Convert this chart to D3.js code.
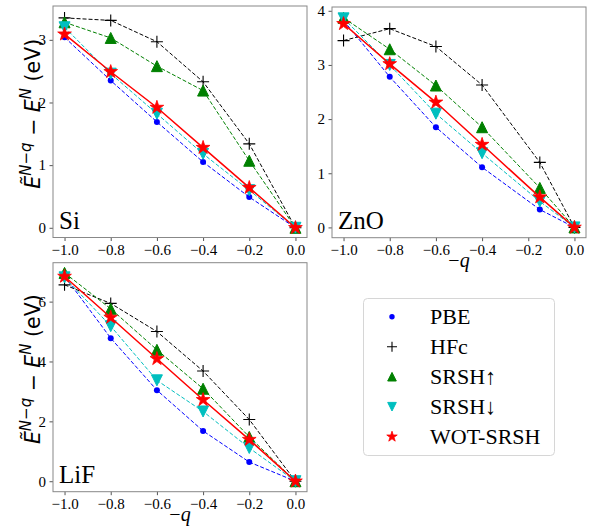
<!DOCTYPE html>
<html>
<head>
<meta charset="utf-8">
<script src="https://cdn.jsdelivr.net/npm/d3@7"></script>
<style>
  body { margin: 0; background: #fff; }
  svg { display: block; }
</style>
</head>
<body>
<div id="chart"></div>
<script>
// ---- data ----
const methods = ["PBE", "HFc", "SRSH\u2191", "SRSH\u2193", "WOT-SRSH"];

const qSi = [-1.0, -0.8, -0.6, -0.4, -0.2, 0.0];
const siPBE  = [3.04, 2.35, 1.69, 1.05, 0.49, 0];
const siHFc  = [3.35, 3.31, 2.97, 2.33, 1.34, 0];
const siUp   = [3.28, 3.03, 2.58, 2.19, 1.07, 0];
const siDown = [3.20, 2.46, 1.82, 1.18, 0.60, 0];
const siWOT  = [3.09, 2.49, 1.92, 1.28, 0.64, 0];

const qZnO = [-1.0, -0.8, -0.6, -0.4, -0.15, 0.0];
const znoPBE  = [3.82, 2.78, 1.85, 1.11, 0.33, 0];
const znoHFc  = [3.45, 3.67, 3.34, 2.63, 1.20, 0];
const znoUp   = [3.87, 3.29, 2.62, 1.85, 0.73, 0];
const znoDown = [3.86, 3.00, 2.10, 1.37, 0.48, 0];
const znoWOT  = [3.76, 3.02, 2.31, 1.53, 0.56, 0];

const qLiF = [-1.0, -0.8, -0.6, -0.4, -0.2, 0.0];
const lifPBE  = [6.85, 4.78, 3.04, 1.68, 0.64, 0];
const lifHFc  = [6.56, 5.94, 5.00, 3.68, 2.06, 0];
const lifUp   = [6.96, 5.76, 4.39, 3.09, 1.48, 0];
const lifDown = [6.81, 5.18, 3.37, 2.33, 1.11, 0];
const lifWOT  = [6.84, 5.47, 4.09, 2.72, 1.39, 0];

const xTicks = [-1.0, -0.8, -0.6, -0.4, -0.2, 0.0];
const siTicks = [0, 1, 2, 3];
const znoTicks = [0, 1, 2, 3, 4];
const lifTicks = [0, 2, 4, 6];

// ---- styles ----
const styles = {
  "PBE":       {color: "#0000ff", marker: "circle", dash: "4,2",  lw: 1},
  "HFc":       {color: "#000000", marker: "plus",   dash: "4,2",  lw: 1},
  "SRSH\u2191":{color: "#008000", marker: "up",     dash: "4,2",  lw: 1},
  "SRSH\u2193":{color: "#00bfbf", marker: "down",   dash: "4,2",  lw: 1},
  "WOT-SRSH":  {color: "#ff0000", marker: "star",   dash: null,   lw: 1.5}
};

const serif = "'Liberation Serif', 'Times New Roman', serif";

const W = 595, H = 529;
const svg = d3.select("#chart").append("svg")
    .attr("width", W)
    .attr("height", H);

const panels = [
  {name: "Si",  q: qSi,  series: [siPBE, siHFc, siUp, siDown, siWOT],
   yDomain: [-0.155, 3.54], yTicks: siTicks, box: {l: 53, t: 6, r: 307, b: 237.5}, ylabel: true, xlabel: false},
  {name: "ZnO", q: qZnO, series: [znoPBE, znoHFc, znoUp, znoDown, znoWOT],
   yDomain: [-0.19, 4.07], yTicks: znoTicks, box: {l: 332, t: 7, r: 586, b: 237.7}, ylabel: false, xlabel: true},
  {name: "LiF", q: qLiF, series: [lifPBE, lifHFc, lifUp, lifDown, lifWOT],
   yDomain: [-0.35, 7.3], yTicks: lifTicks, box: {l: 53, t: 262.7, r: 307, b: 491.7}, ylabel: true, xlabel: true}
];

// marker drawing
function drawMarker(g, type, color, s) {
  // s = half size
  if (type === "circle") {
    g.append("circle").attr("r", s).attr("fill", color);
  } else if (type === "plus") {
    g.append("path").attr("d", `M${-s},0H${s}M0,${-s}V${s}`)
      .attr("stroke", color).attr("stroke-width", 1.1).attr("fill", "none");
  } else if (type === "up") {
    g.append("path").attr("d", `M0,${-s}L${s},${s}L${-s},${s}Z`)
      .attr("fill", color).attr("stroke", color).attr("stroke-width", 1);
  } else if (type === "down") {
    g.append("path").attr("d", `M0,${s}L${s},${-s}L${-s},${-s}Z`)
      .attr("fill", color).attr("stroke", color).attr("stroke-width", 1);
  } else if (type === "star") {
    g.append("path")
      .attr("d", d3.symbol().type(d3.symbolStar).size(s * s / 0.8908)())
      .attr("fill", color).attr("stroke", color).attr("stroke-width", 0.8);
  }
}

const markerSize = {circle: 3, plus: 6, up: 5.5, down: 5.5, star: 7.2};

panels.forEach(p => {
  const b = p.box;
  const x = d3.scaleLinear().domain([-1.05, 0.05]).range([b.l, b.r]);
  const y = d3.scaleLinear().domain(p.yDomain).range([b.b, b.t]);
  const g = svg.append("g");

  // axes ticks
  const xAxis = g.append("g")
      .attr("transform", `translate(0,${b.b})`)
      .call(d3.axisBottom(x).tickValues(xTicks).tickSize(3.5).tickPadding(3.5)
        .tickFormat(d3.format(".1f")));
  const yAxis = g.append("g")
      .attr("transform", `translate(${b.l},0)`)
      .call(d3.axisLeft(y).tickValues(p.yTicks).tickSize(3.5).tickPadding(3.5)
        .tickFormat(d3.format("d")));
  [xAxis, yAxis].forEach(a => {
    a.attr("font-family", serif).attr("font-size", 15);
    a.select(".domain").remove();
    a.selectAll(".tick line").attr("stroke", "#555");
    a.selectAll("text").attr("fill", "#000");
  });

  // lines and markers
  methods.forEach((m, i) => {
    const st = styles[m];
    const vals = p.series[i].map((v, k) => ({q: p.q[k], v: v}));
    const line = d3.line().x(d => x(d.q)).y(d => y(d.v));
    g.append("path")
      .datum(vals)
      .attr("d", line)
      .attr("fill", "none")
      .attr("stroke", st.color)
      .attr("stroke-width", st.lw)
      .attr("stroke-dasharray", st.dash);
    vals.forEach(d => {
      const mg = g.append("g").attr("transform", `translate(${x(d.q)},${y(d.v)})`);
      drawMarker(mg, st.marker, st.color, markerSize[st.marker]);
    });
  });

  // frame
  g.append("rect")
    .attr("x", b.l).attr("y", b.t)
    .attr("width", b.r - b.l).attr("height", b.b - b.t)
    .attr("fill", "none").attr("stroke", "#888").attr("stroke-width", 1);

  // panel label
  g.append("text")
    .attr("x", b.l + 6).attr("y", b.b - 8.5)
    .attr("font-family", serif).attr("font-size", 25)
    .text(p.name);

  // y label
  if (p.ylabel) {
    const t = g.append("text")
      .attr("transform", `translate(40,${(b.t + b.b) / 2 - 8}) rotate(-90)`)
      .attr("text-anchor", "middle")
      .attr("font-family", "'DejaVu Sans', sans-serif")
      .attr("font-size", 20.5);
    t.append("tspan").attr("font-style", "italic").text("E\u0303");
    t.append("tspan").attr("font-style", "italic").attr("font-size", 15).attr("dy", -9).text("N\u2212q");
    t.append("tspan").attr("dy", 9).text(" \u2212 ");
    t.append("tspan").attr("font-style", "italic").text("E");
    t.append("tspan").attr("font-style", "italic").attr("font-size", 15).attr("dy", -9).text("N");
    t.append("tspan").attr("dy", 9).text(" (eV)");
  }

  // x label
  if (p.xlabel) {
    const t = g.append("text")
      .attr("x", (b.l + b.r) / 2).attr("y", b.b + 29.5)
      .attr("text-anchor", "middle")
      .attr("font-family", serif).attr("font-size", 20);
    t.append("tspan").text("\u2212");
    t.append("tspan").attr("font-style", "italic").text("q");
  }
});

// legend
const legend = svg.append("g");
legend.append("rect")
  .attr("x", 363.5).attr("y", 298.5).attr("width", 191).attr("height", 157)
  .attr("rx", 4).attr("fill", "#fff").attr("stroke", "#d6d6d6").attr("stroke-width", 1);
const legendMarker = {circle: 2.7, plus: 5, up: 4.3, down: 4.3, star: 5.5};
methods.forEach((m, i) => {
  const st = styles[m];
  const yy = 316.7 + i * 30;
  const mg = legend.append("g").attr("transform", `translate(392,${yy})`);
  drawMarker(mg, st.marker, st.color, legendMarker[st.marker]);
  legend.append("text")
    .attr("x", 430).attr("y", yy + 7.5)
    .attr("font-family", serif).attr("font-size", 22)
    .text(m);
});
</script>
</body>
</html>
